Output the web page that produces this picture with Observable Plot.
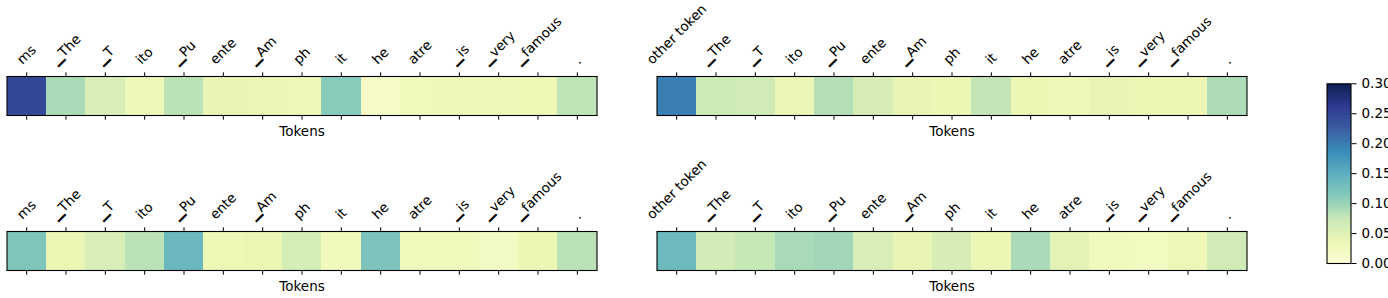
<!DOCTYPE html>
<html>
<head>
<meta charset="utf-8">
<script src="https://cdn.jsdelivr.net/npm/d3@7"></script>
<script src="https://cdn.jsdelivr.net/npm/@observablehq/plot@0.6"></script>
<style>
  html, body { margin: 0; padding: 0; background: white; }
  #root { position: relative; width: 1388px; height: 298px; overflow: hidden; background: white; font-family: "DejaVu Sans", sans-serif; }
  #root > svg { position: absolute; font-family: "DejaVu Sans", sans-serif; }
</style>
</head>
<body>
<div id="root"></div>
<script>
// ---- data ----
const leftTokens = ["ms", "▁The", "▁T", "ito", "▁Pu", "ente", "▁Am", "ph", "it", "he", "atre", "▁is", "▁very", "▁famous", "."];
const rightTokens = ["other token", "▁The", "▁T", "ito", "▁Pu", "ente", "▁Am", "ph", "it", "he", "atre", "▁is", "▁very", "▁famous", "."];

const topLeftValues     = [0.247, 0.092, 0.059, 0.035, 0.082, 0.042, 0.041, 0.035, 0.110, 0.019, 0.031, 0.033, 0.034, 0.036, 0.080];
const topRightValues    = [0.198, 0.070, 0.067, 0.041, 0.086, 0.061, 0.042, 0.039, 0.077, 0.037, 0.034, 0.044, 0.037, 0.037, 0.090];
const bottomLeftValues  = [0.119, 0.040, 0.060, 0.082, 0.138, 0.036, 0.040, 0.062, 0.029, 0.122, 0.031, 0.031, 0.021, 0.037, 0.083];
const bottomRightValues = [0.137, 0.066, 0.076, 0.093, 0.096, 0.059, 0.042, 0.061, 0.037, 0.092, 0.048, 0.027, 0.025, 0.035, 0.067];

const xLabel = "Tokens";
const vmin = 0, vmax = 0.30;
const colorbarTicks = [0.00, 0.05, 0.10, 0.15, 0.20, 0.25, 0.30];
// YlGnBu stops as they appear in the reference picture
const ylgnbuColors = ["#fdfed8", "#edf7b5", "#c8e8b6", "#86cabb", "#5eb0c0", "#3a8cb9", "#3a5ea2", "#2e398f", "#101f54"];

// ---- shared config ----
const FONT = "DejaVu Sans";
const FS = 13.5;
const colorOpts = {
  type: "linear",
  domain: ylgnbuColors.map((_, i) => vmin + i * (vmax - vmin) / (ylgnbuColors.length - 1)),
  range: ylgnbuColors,
  interpolate: "rgb"
};
const baseStyle = { fontFamily: FONT, fontSize: FS + "px", color: "black", background: "transparent", overflow: "visible" };

const canvas = document.createElement("canvas");
const ctx = canvas.getContext("2d");
ctx.font = FS + "px '" + FONT + "'";

const root = document.getElementById("root");

function panel(tokens, values, left, top, height) {
  const data = tokens.map((t, i) => ({ token: t, value: values[i] }));
  // rotated label: bbox bottom just above the tick, bbox centred on the tick
  const labelY = tokens.map(t => 67 - (ctx.measureText(t).width + 1.15 * FS) / (2 * Math.SQRT2));
  const svg = Plot.plot({
    width: 600,
    height,
    marginLeft: 6.5,
    marginRight: 3.5,
    marginTop: 76,
    marginBottom: height - 115,
    x: { type: "band", domain: tokens, padding: 0, round: false, axis: null },
    y: { type: "identity", axis: null },
    color: colorOpts,
    style: baseStyle,
    marks: [
      Plot.cell(data, { x: "token", fill: "value", inset: 0, shapeRendering: "crispEdges" }),
      Plot.frame({ stroke: "black", strokeWidth: 1.1 }),
      Plot.axisX({ anchor: "top", tickSize: 4.7, tickFormat: () => "", label: null }),
      Plot.axisX({ anchor: "bottom", tickSize: 4.7, tickFormat: () => "", label: null }),
      Plot.text(data, { x: "token", y: (d, i) => labelY[i], text: "token", rotate: -45, textAnchor: "middle", lineAnchor: "middle", fontSize: FS, fontFamily: FONT, fill: "black" }),
      Plot.text([xLabel], { frameAnchor: "bottom", dy: 16.5, lineAnchor: "middle", fontSize: FS, fontFamily: FONT, fill: "black" })
    ]
  });
  svg.style.left = left + "px";
  svg.style.top = top + "px";
  root.appendChild(svg);
}

panel(leftTokens, topLeftValues, 0, 0, 150);
panel(rightTokens, topRightValues, 650, 0, 150);
panel(leftTokens, bottomLeftValues, 0, 155, 143);
panel(rightTokens, bottomRightValues, 650, 155, 143);

// ---- colorbar ----
const cb = Plot.plot({
  width: 88,
  height: 298,
  marginLeft: 26.5,
  marginRight: 37.5,
  marginTop: 83.3,
  marginBottom: 35,
  x: { domain: [0, 1], axis: null },
  y: { domain: [vmin, vmax], axis: null },
  color: colorOpts,
  style: baseStyle,
  marks: [
    Plot.raster({ x1: 0, x2: 1, y1: vmin, y2: vmax, width: 1, height: 300, fill: (x, y) => y, imageRendering: "auto" }),
    Plot.frame({ stroke: "black", strokeWidth: 1.1 }),
    Plot.axisY({ anchor: "right", ticks: colorbarTicks, tickFormat: d3.format(".2f"), tickSize: 5, tickPadding: 5.5, label: null, fontSize: FS, fontFamily: FONT })
  ]
});
cb.style.left = "1300px";
cb.style.top = "0px";
root.appendChild(cb);
</script>
</body>
</html>
